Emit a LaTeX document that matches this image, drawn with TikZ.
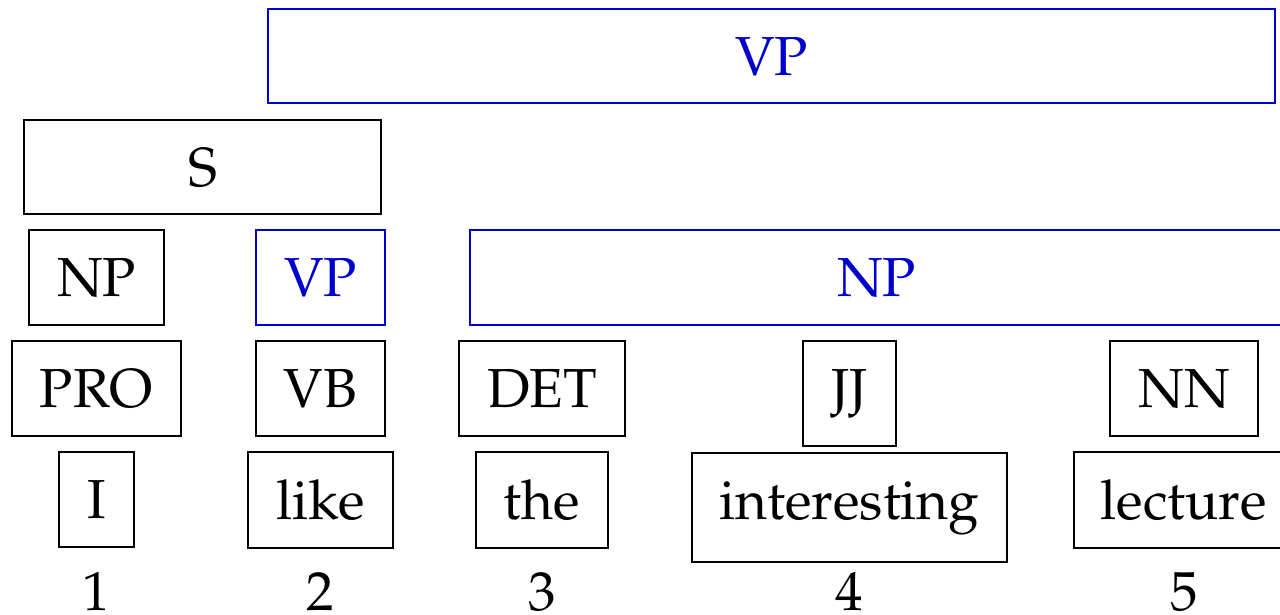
\documentclass[tikz,border=0pt]{standalone}
\usepackage[T1]{fontenc}
\usepackage{mathpazo}
\definecolor{phblue}{RGB}{0,0,205}
\tikzset{
  box/.style={draw=black, line width=2pt, inner sep=0pt, text height=0.7em, text depth=0pt, minimum height=95pt},
  bluebox/.style={box, draw=phblue, text=phblue},
  num/.style={inner sep=0pt, anchor=base}
}
\begin{document}
\begin{tikzpicture}[x=1pt,y=-1pt]
\fontencoding{T1}\fontfamily{pplx}\fontsize{55}{66}\selectfont
\useasboundingbox (0,0) rectangle (1280,615);
\clip (0,0) rectangle (1280,615);
% phrase level
\node[bluebox, minimum width=1007pt, minimum height=94pt] (vptop) at (771.5,56.5) {VP};
\node[box, minimum width=357pt, minimum height=94pt] (s) at (202.5,167) {S};
\node[box, minimum width=135pt] (np1) at (96.5,277.5) {NP};
\node[bluebox, minimum width=129pt] (vp2) at (320.5,277.5) {VP};
\node[bluebox, minimum width=813pt] (np3) at (876.5,277.5) {NP};
% POS level
\node[box, minimum width=169pt] (pro) at (96.5,388.5) {PRO};
\node[box, minimum width=129pt] (vb) at (320.5,388.5) {VB};
\node[box, minimum width=166pt] (det) at (542,388.5) {DET};
\node[box, minimum width=93pt, minimum height=105pt, text depth=0.18em] (jj) at (849.5,393.5) {JJ};
\node[box, minimum width=148pt] (nn) at (1184,388.5) {NN};
% words
\node[box, minimum width=75pt] (w1) at (96.5,499.5) {I};
\node[box, minimum width=145pt, minimum height=96pt] (w2) at (320.5,500) {like};
\node[box, minimum width=132pt, minimum height=96pt] (w3) at (542,500) {the};
\node[box, minimum width=315pt, minimum height=109pt, text depth=0.27em] (w4) at (849.5,507.5) {interesting};
\node[box, minimum width=219pt, minimum height=96pt] (w5) at (1183.5,500) {lecture};
% indices
\node[num] (n1) at (96,610) {1};
\node[num] (n2) at (320,610) {2};
\node[num] (n3) at (542,610) {3};
\node[num] (n4) at (849,610) {4};
\node[num] (n5) at (1184,610) {5};
\end{tikzpicture}
\end{document}
